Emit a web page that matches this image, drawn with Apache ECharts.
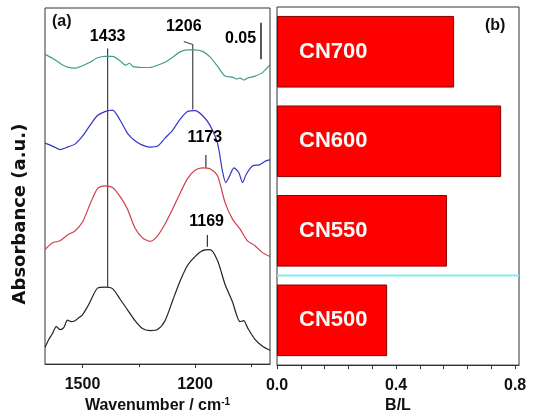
<!DOCTYPE html>
<html><head><meta charset="utf-8">
<script src="https://cdn.jsdelivr.net/npm/echarts@6/dist/echarts.min.js"></script>
<style>html,body{margin:0;padding:0;background:#fff}#c{width:533px;height:419px}</style>
</head><body><div id="c"></div>
<script>
// ---- panel (a): FTIR spectra (arbitrary absorbance units, offset) ----
const wn700 = [1600,1580,1560,1540,1520,1500,1480,1460,1440,1420,1400,1385,1375,1365,1340,1320,1300,1280,1260,1240,1220,1200,1180,1160,1140,1120,1100,1090,1080,1070,1060,1040,1020,1000];
const ab700 = [314,310,305,301,300,302.5,306,310.5,312,312,307.5,303,305,301.5,300.7,300.7,303,306,311,316.5,318.5,318.5,317,311.5,302,292,291,289,290,288,290,292,295.5,303.5];

const wn600 = [1600,1580,1560,1540,1520,1500,1480,1460,1440,1420,1400,1380,1360,1340,1320,1300,1280,1260,1240,1220,1200,1180,1160,1140,1127,1118,1110,1096,1083,1073,1064,1046,1029,1011,1000];
const ab600 = [224,221,217.5,220,223,231,242,252,256,257.5,247.5,234,226.5,222,220,221,229,237,248,256,257,252,242,224,196,184,189,199,194,184,192,201,202,206,207];

const wn550 = [1600,1580,1560,1540,1520,1500,1480,1460,1440,1420,1400,1380,1360,1340,1320,1300,1280,1260,1240,1220,1200,1180,1160,1140,1120,1100,1080,1060,1040,1020,1000];
const ab550 = [116,123,125,131,135,144,162,178,180.7,179,170,157,138,128,124.5,130,142,157,173,188,196.5,199,198,191,164,147,137,125,120,113,109];

const wn500 = [1600,1590,1580,1570,1560,1550,1540,1530,1520,1510,1500,1490,1480,1460,1440,1420,1400,1380,1360,1340,1320,1300,1280,1260,1240,1220,1200,1180,1160,1140,1120,1100,1080,1070,1060,1040,1020,1000];
const ab500 = [17,25,31,38,35,37,44.5,43,44,47,50,56,63,77,78,76.5,66,55,44,36,34,35,44,64,84,100,109,115,116,105,81,63,43,44,37,25,18,14];

const wnTicks = [1500, 1200];
const wnMinorTicks = [1350, 1050];

// peak annotations
const peakNames = ['1433', '1206', '1173', '1169'];
const peakLabelPos = [[1433, 332], [1230, 342], [1174, 230], [1169, 144]];
const lead1433 = [[1433, 78], [1433, 320]];
const lead1206 = [[1230, 327], [1206, 324], [1206, 258]];
const lead1173 = [[1171, 212], [1171, 199]];
const lead1169 = [[1167, 131], [1167, 119]];
const scaleBar = [[1024, 309], [1024, 346]];
const scaleLabel = [[1037, 330]];

// ---- panel (b): B/L ratio ----
const samples = ['CN500', 'CN550', 'CN600', 'CN700'];
const blRatio = [0.37, 0.571, 0.753, 0.595];
const blTicks = [0, 0.08, 0.16, 0.24, 0.32, 0.4, 0.48, 0.56, 0.64, 0.72, 0.8];
const blLabels = [0, 0.4, 0.8];
const separatorLine = [[0, 1], [0.813, 1]]; // boundary between CN500 and CN550 bands

const FONT = 'Liberation Sans, Arial, sans-serif';
const TXT = '#111';

function zip(xs, ys) { return xs.map((x, i) => [x, ys[i]]); }
function spec(data, color) {
  return { type: 'line', xAxisIndex: 0, yAxisIndex: 0, data, symbol: 'none', smooth: 0.25,
    lineStyle: { color, width: 1.2 }, silent: true, z: 3 };
}
function lead(data, color, w) {
  return { type: 'line', xAxisIndex: 0, yAxisIndex: 0, data, symbol: 'none',
    lineStyle: { color: color, width: w }, silent: true, z: 2 };
}

const chart = echarts.init(document.getElementById('c'), null, { renderer: 'canvas' });
chart.setOption({
  animation: false,
  backgroundColor: '#fff',
  textStyle: { fontFamily: FONT },
  grid: [
    { left: 45, right: 263, top: 8, bottom: 50, show: true, borderColor: '#333', borderWidth: 1, containLabel: false },
    { left: 277, right: 14, top: 7, bottom: 50, show: true, borderColor: '#333', borderWidth: 1, containLabel: false }
  ],
  xAxis: [
    { type: 'value', gridIndex: 0, min: 1000, max: 1600, inverse: true, position: 'bottom',
      axisLine: { show: true, lineStyle: { color: '#333' } },
      axisTick: { show: true, customValues: wnTicks, length: 4, lineStyle: { color: '#333' } },
      axisLabel: { show: true, customValues: wnTicks, formatter: v => String(v), color: TXT, fontSize: 16, fontWeight: 'bold', margin: 12, fontFamily: FONT },
      splitLine: { show: false },
      name: 'Wavenumber / cm{sup|-1}', nameLocation: 'middle', nameGap: 30,
      nameTextStyle: { color: TXT, fontSize: 16, fontWeight: 'bold', fontFamily: FONT,
        rich: { sup: { fontSize: 10, fontWeight: 'bold', verticalAlign: 'top', padding: [0, 0, 8, 0], color: TXT } } } },
    { type: 'value', gridIndex: 0, min: 1000, max: 1600, inverse: true, position: 'bottom',
      axisLine: { show: false },
      axisTick: { show: true, customValues: wnMinorTicks, length: 3, lineStyle: { color: '#333' } },
      axisLabel: { show: false }, splitLine: { show: false } },
    { type: 'value', gridIndex: 1, min: 0, max: 0.813, position: 'bottom',
      axisLine: { show: true, lineStyle: { color: '#333' } },
      axisTick: { show: true, customValues: blTicks, length: 4, lineStyle: { color: '#333' } },
      axisLabel: { show: true, customValues: blLabels, formatter: v => v.toFixed(1), color: TXT, fontSize: 16, fontWeight: 'bold', margin: 12, fontFamily: FONT },
      splitLine: { show: false },
      name: 'B/L', nameLocation: 'middle', nameGap: 32,
      nameTextStyle: { color: TXT, fontSize: 16, fontWeight: 'bold', fontFamily: FONT } }
  ],
  yAxis: [
    { type: 'value', gridIndex: 0, min: 0, max: 361,
      axisLine: { show: false }, axisTick: { show: false }, axisLabel: { show: false }, splitLine: { show: false } },
    { type: 'category', gridIndex: 1, data: samples,
      axisLine: { show: false }, axisTick: { show: false }, axisLabel: { show: false }, splitLine: { show: false } },
    { type: 'value', gridIndex: 1, min: 0, max: samples.length, show: false }
  ],
  series: [
    spec(zip(wn700, ab700), '#3f9c8e'),
    spec(zip(wn600, ab600), '#3535c4'),
    spec(zip(wn550, ab550), '#cf3f4c'),
    spec(zip(wn500, ab500), '#222222'),
    lead(lead1433, '#444', 1.2),
    lead(lead1206, '#444', 1.2),
    lead(lead1173, '#333', 1.2),
    lead(lead1169, '#333', 1.2),
    lead(scaleBar, '#222', 1.5),
    { type: 'scatter', xAxisIndex: 0, yAxisIndex: 0, symbolSize: 0, silent: true, z: 5,
      itemStyle: { opacity: 1 },
      data: peakLabelPos.map((p, i) => ({ value: p, name: peakNames[i] })),
      label: { show: true, position: 'inside', formatter: '{b}', color: '#000', opacity: 1, fontSize: 16, fontWeight: 'bold', fontFamily: FONT } },
    { type: 'scatter', xAxisIndex: 0, yAxisIndex: 0, symbolSize: 0, silent: true, z: 5,
      itemStyle: { opacity: 1 },
      data: scaleLabel.map(p => ({ value: p, name: '0.05' })),
      label: { show: true, position: 'left', distance: 0, formatter: '{b}', color: '#000', opacity: 1, fontSize: 16, fontWeight: 'bold', fontFamily: FONT } },
    { type: 'line', xAxisIndex: 2, yAxisIndex: 2, data: separatorLine, symbol: 'none', silent: true, z: 1,
      lineStyle: { color: '#80eef0', width: 2 } },
    { type: 'bar', xAxisIndex: 2, yAxisIndex: 1, data: blRatio, barCategoryGap: '20%', z: 3,
      itemStyle: { color: '#ff0000', borderColor: '#8a0000', borderWidth: 1 },
      label: { show: true, position: 'insideLeft', distance: 22, formatter: (p) => samples[p.dataIndex],
        color: '#fafafa', fontSize: 22, fontWeight: 'bold', fontFamily: FONT },
      silent: true }
  ],
  graphic: [
    { type: 'text', left: 52, top: 14, style: { text: '(a)', fill: TXT, font: 'bold 16px ' + FONT } },
    { type: 'text', left: 485, top: 18, style: { text: '(b)', fill: TXT, font: 'bold 16px ' + FONT } },
    { type: 'text', x: 20, y: 214, rotation: Math.PI / 2,
      style: { text: 'Absorbance (a.u.)', fill: TXT, font: 'bold 18px DejaVu Sans', align: 'center', verticalAlign: 'middle' } }
  ]
});
</script>
</body></html>
